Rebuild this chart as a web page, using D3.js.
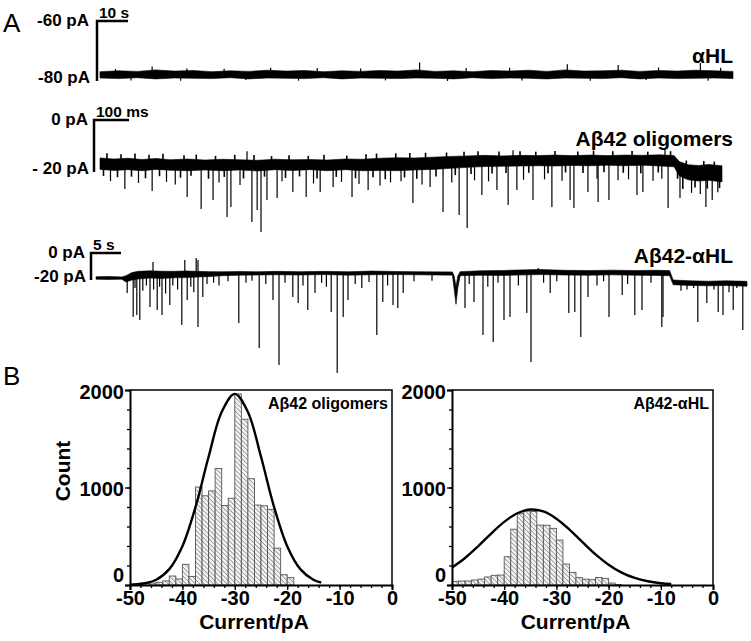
<!DOCTYPE html>
<html><head><meta charset="utf-8">
<script src="https://cdn.jsdelivr.net/npm/d3@7"></script>
<style>body{margin:0;background:#fff} svg{display:block;font-family:"Liberation Sans",Arial,Helvetica,sans-serif}</style>
</head><body><svg id="c" width="751" height="641"></svg>
<script>
// ---------- Panel A data (time, current pA) ----------
// trace 1: alphaHL, time in s
const t1Band = [[0,-76.9,-79.0],[6,-76.6,-79.2],[12,-76.8,-78.9],[18,-76.3,-79.3],[24,-76.7,-79.0],[30,-76.5,-79.1],[36,-76.9,-79.2],[42,-76.6,-78.9],[48,-76.8,-79.3],[54,-76.4,-79.0],[60,-76.7,-79.1],[66,-76.5,-79.2],[72,-76.9,-78.9],[78,-76.6,-79.3],[84,-76.8,-79.0],[90,-76.5,-79.1],[96,-76.7,-79.2],[102,-76.3,-79.0],[108,-76.8,-79.1],[114,-76.6,-79.3],[120,-76.9,-78.9],[126,-76.5,-79.2],[132,-76.7,-79.0],[138,-76.4,-79.1],[144,-76.8,-79.3],[150,-76.3,-79.0],[156,-76.7,-79.1],[162,-76.6,-79.2],[168,-76.4,-78.9],[174,-76.8,-79.3],[180,-76.5,-79.0],[186,-76.7,-79.2],[192,-76.4,-79.1],[198,-76.6,-79.0],[204,-76.8,-79.2]];
const t1Spikes = [[5,-76.0],[16.8,-75.2],[28,-75.8],[40,-75.9],[55,-75.6],[70,-75.7],[84,-75.8],[103,-73.8],[118,-75.7],[132,-75.6],[150.6,-74.4],[167,-74.7],[180,-75.5],[193.5,-74.0],[200,-75.6],
  [10,-79.8],[26,-79.9],[47,-79.7],[64,-79.9],[92,-79.8],[112,-80.0],[136,-79.8],[158,-79.9],[176,-79.7],[196,-79.9]];
// trace 2: Abeta42 oligomers, time in ms
const t2Band = [[0,-14.6,-19.0],[40,-15.0,-19.4],[80,-14.7,-19.1],[120,-15.2,-19.5],[160,-14.8,-19.0],[200,-15.3,-19.3],[250,-15.0,-19.5],[300,-15.4,-19.2],[350,-15.1,-19.5],[400,-15.3,-19.2],[450,-15.5,-19.6],[500,-15.1,-19.1],[550,-15.3,-19.4],[600,-15.2,-19.1],[650,-15.4,-19.5],[700,-15.0,-19.1],[750,-15.1,-19.5],[800,-14.7,-19.4],[850,-14.5,-19.5],[900,-14.6,-19.2],[950,-14.3,-19.0],[1000,-14.0,-18.6],[1050,-13.8,-18.2],[1100,-13.6,-17.9],[1150,-13.8,-17.8],[1200,-13.6,-17.7],[1250,-13.7,-17.6],[1300,-13.5,-17.7],[1350,-13.7,-17.5],[1400,-13.5,-17.6],[1450,-13.7,-17.4],[1500,-13.5,-17.6],[1550,-13.6,-17.4],[1600,-13.4,-17.7],[1640,-13.7,-18.0],[1655,-16.0,-21.5],[1680,-17.2,-23.0],[1710,-17.5,-23.5],[1740,-17.1,-23.2],[1777,-17.6,-23.8]];
const t2Spikes = [[71,-26.5],[149,-27.3],[249,-29.6],[289,-34.2],[323,-30.8],[363,-37.3],[374,-33.5],[434,-39.2],[449,-34.6],[460,-43.1],[477,-30.8],[506,-30],[551,-27.7],[589,-29.6],[629,-27.7],[666,-25.8],[720,-29.6],[766,-26.9],[894,-31.9],[943,-25.8],[980,-35.4],[1026,-36.5],[1049,-41.5],[1091,-28.8],[1134,-26.9],[1166,-32.7],[1191,-26.9],[1237,-30.8],[1291,-33.5],[1343,-30.8],[1354,-33.8],[1394,-27.7],[1423,-31.5],[1454,-30.8],[1534,-28.8],[1551,-27.7],[1623,-33.8],[1657,-30],[1731,-33.5],[1749,-30.8],
  [30,-23.5],[110,-24.2],[190,-23.8],[215,-24.8],[340,-24],[400,-25],[520,-23.6],[610,-24.4],[690,-23.8],[740,-24.6],[800,-25.2],[830,-24],[860,-23.6],[920,-24.8],[1005,-24],[1070,-23.2],[1110,-23.6],[1210,-23],[1270,-22.8],[1320,-23.4],[1420,-22.6],[1480,-23.2],[1510,-22.8],[1580,-23.4],[1605,-22.6],[1690,-28],[1715,-28.5],[1765,-27.8],
  [1614,-11.0],[420,-12.0],[1180,-11.6]];
// fine noise hairs of trace 2 (short excursions)
const t2Hairs = [[10,-21.5],[20,-12.8],[50,-22],[60,-13.2],[90,-21.8],[100,-12.9],[130,-22.4],[140,-13.4],[170,-21.6],[180,-13.0],[230,-22.2],[240,-13.6],[260,-21.4],[275,-13.3],[310,-22.6],[330,-13.8],[355,-21.9],[385,-13.4],[410,-22.5],[440,-13.5],[470,-21.8],[490,-13.9],[530,-22.3],[540,-13.6],[570,-21.7],[595,-13.8],[620,-22.5],[640,-13.4],[675,-21.9],[705,-13.7],[730,-22.4],[760,-13.2],[780,-22.0],[790,-12.9],[815,-22.8],[845,-12.8],[870,-22.1],[885,-12.7],[905,-22.6],[930,-12.6],[960,-21.7],[990,-12.5],[1015,-21.2],[1040,-12.2],[1060,-20.8],[1080,-12.0],[1120,-20.6],[1140,-12.1],[1160,-20.4],[1200,-12.0],[1225,-20.3],[1245,-12.2],[1280,-20.5],[1300,-11.9],[1330,-20.2],[1365,-12.1],[1380,-20.4],[1410,-11.8],[1440,-20.1],[1465,-12.0],[1495,-20.3],[1520,-11.9],[1545,-20.5],[1565,-12.2],[1595,-20.2],[1630,-12.0],[1650,-22.6],[1665,-26.5],[1675,-15.6],[1700,-26.0],[1725,-15.8],[1735,-26.4],[1755,-16.0],[1770,-26.2]];
// trace 3: Abeta42-alphaHL, time in s
const t3Band = [[0,-17.6,-19.4],[2,-17.4,-19.6],[4.3,-17.7,-19.4],[5.0,-16.8,-21.5],[6,-14.5,-20],[7,-13.6,-19.2],[9,-13.2,-18.6],[11,-13.5,-18.8],[13,-13.6,-18.4],[15,-13.3,-18.2],[17,-13.6,-17.8],[19,-13.8,-17.4],[21,-13.9,-16.8],[24,-13.7,-16.4],[27,-13.9,-16.3],[30,-13.6,-16.1],[34,-13.8,-16.3],[38,-13.6,-16.0],[42,-13.9,-16.4],[46,-13.4,-16.1],[50,-13.7,-16.0],[54,-13.9,-16.2],[59.4,-14.0,-16.4],[59.7,-17,-27],[60.0,-25,-38],[60.3,-17,-26],[60.7,-13.8,-16.8],[64,-13.2,-16.5],[68,-12.9,-16.6],[72,-12.4,-16.2],[74,-12.2,-16.0],[78,-12.8,-16.3],[82,-13.0,-16.5],[86,-12.7,-16.2],[90,-13.0,-16.5],[93,-12.8,-16.6],[95.6,-13.0,-16.8],[96.2,-20.0,-23.5],[99,-20.6,-24.0],[102,-20.9,-24.3],[105,-20.6,-24.1],[108.5,-21.0,-24.6]];
const t3Spikes = [[5.2,-29.6],[6.2,-47.4],[6.8,-45.9],[7.3,-49.6],[9.0,-40],[10.2,-42.2],[11.0,-45.9],[12.3,-38.5],[14.3,-53.3],[15.2,-34.8],[17.0,-54.8],[17.8,-32.6],[23.8,-51.9],[27.2,-70.4],[29.5,-34.8],[30.5,-83],[32.8,-32.6],[33.7,-37],[35.3,-42.2],[36.5,-29.6],[39.2,-43.7],[40.2,-88.9],[41.2,-47.4],[42,-34.8],[44.3,-25.9],[46.8,-60.7],[47.8,-36.3],[49.5,-38.5],[50.3,-40.7],[51.2,-29.6],[61.5,-40.7],[63,-36.3],[64.5,-60.7],[66.2,-65.9],[68,-49.6],[69,-47.4],[71.8,-44.4],[72.5,-80.7],[75.7,-29.6],[78.8,-44.4],[79.8,-43.7],[80.8,-62.2],[82,-32.6],[85.5,-47.4],[87.7,-31.1],[89.8,-45.9],[91,-42.2],[94.3,-54.8],[94.5,-47.4],[100.3,-51.1],[101.8,-37],[103.7,-43.7],[104.5,-45.9],[106.2,-42.2],[107.8,-57],
  [9.5,-6.7],[14.8,-5.2],[16.7,-3.7],[17.0,-5.2],[73.7,-11.1],
  [6.5,-26],[7.8,-28],[8.4,-24],[9.6,-27],[10.6,-25],[11.6,-30],[12.8,-24],[13.6,-27],[15.8,-25],[16.3,-29],[18.5,-23],[19.6,-22],[20.5,-24],[22,-21],[25,-22],[26,-20.5],[28.3,-23],[31.5,-22],[34.5,-24],[37.6,-22],[38.4,-25],[43.2,-23],[45.5,-21.5],[48.6,-24],[53,-21],[56,-20.5],[62.2,-23],[65.3,-25],[67,-22],[70.4,-24],[74.6,-22],[76.8,-21],[83.5,-24],[84.6,-21],[88.6,-23],[92.5,-22],[97.5,-28],[98.5,-27],[99.6,-26],[103,-27],[105.5,-29],[106.8,-26]];

// ---------- Panel B data ----------
const binStart = -50, binWidth = 1.25;
const countsOligo = [8,12,15,20,28,42,92,62,212,88,1005,915,965,1195,815,890,1960,1700,1090,820,812,776,378,105,75];
const countsAbHL  = [37,41,41,51,61,82,99,102,290,572,731,759,754,614,613,581,461,215,130,75,60,55,77,68,20,5];
const fitOligo = [[-50,3],[-47.5,15],[-45,54],[-42.5,163],[-40,398],[-37.5,799],[-35,1315],[-32.5,1774],[-30,1960],[-27.5,1774],[-25,1315],[-22.5,799],[-20,398],[-17.5,163],[-15,54],[-13.5,26]];
const fitAbHL = [[-50,179],[-47.5,277],[-45,397],[-42.5,527],[-40,647],[-37.5,736],[-35,774],[-32.5,754],[-30,680],[-27.5,568],[-25,439],[-22.5,314],[-20,208],[-17.5,127],[-15,72],[-12.5,38],[-10,18],[-8,10]];
const xTicks = [-50,-40,-30,-20,-10,0];
const yTicks = [0,1000,2000];

const svg = d3.select("#c");
const defs = svg.append("defs");
const pat = defs.append("pattern").attr("id","hatch").attr("patternUnits","userSpaceOnUse")
  .attr("width",3.2).attr("height",3.2).attr("patternTransform","rotate(-45)");
pat.append("rect").attr("width",3.2).attr("height",3.2).attr("fill","#f4f4f4");
pat.append("line").attr("x1",0).attr("y1",0).attr("x2",0).attr("y2",3.2).attr("stroke","#666").attr("stroke-width",1.1);

svg.append("text").attr("x",3).attr("y",32).attr("font-size",26).text("A");
svg.append("text").attr("x",3).attr("y",385).attr("font-size",26).text("B");

function interp(band, t){
  const i = d3.bisector(d=>d[0]).left(band, t);
  if(i<=0) return (band[0][1]+band[0][2])/2;
  if(i>=band.length) {const b=band[band.length-1]; return (b[1]+b[2])/2;}
  const a=band[i-1], b=band[i], f=(t-a[0])/(b[0]-a[0]);
  return ((a[1]+a[2])/2)*(1-f) + ((b[1]+b[2])/2)*f;
}

function drawTrace(c){
  const x = d3.scaleLinear().domain([0,c.tMax]).range(c.xr);
  const y = d3.scaleLinear().domain(c.yDom).range(c.yr);
  const g = svg.append("g");
  g.append("path").datum(c.band)
    .attr("d", d3.area().x(d=>x(d[0])).y0(d=>y(d[2])).y1(d=>y(d[1])))
    .attr("fill","#000").attr("stroke","#000").attr("stroke-width",0.6);
  g.selectAll("line.hr").data(c.hairs||[]).join("line").attr("class","hr")
    .attr("x1",d=>x(d[0])).attr("x2",d=>x(d[0]))
    .attr("y1",d=>y(interp(c.band,d[0]))).attr("y2",d=>y(d[1]))
    .attr("stroke","#000").attr("stroke-width",1.6);
  g.selectAll("line.sp").data(c.spikes).join("line").attr("class","sp")
    .attr("x1",d=>x(d[0])).attr("x2",d=>x(d[0]))
    .attr("y1",d=>y(interp(c.band,d[0]))).attr("y2",d=>y(d[1]))
    .attr("stroke","#000").attr("stroke-width",1.2);
  const bx = c.barX, dx = x(c.barT)-x(0);
  g.append("path").attr("d",`M${bx+dx},${y(c.barTop)}H${bx}V${y(c.barBot)}`)
    .attr("fill","none").attr("stroke","#000").attr("stroke-width",2.5);
  g.append("text").attr("x",bx+2).attr("y",y(c.barTop)-3).attr("font-size",15.5).attr("font-weight","bold").text(c.barLabel);
  g.append("text").attr("x",c.labX).attr("y",y(c.barTop)+5).attr("text-anchor","end").attr("font-size",17).attr("font-weight","bold").text(c.topLabel);
  g.append("text").attr("x",c.labX+1).attr("y",y(c.barBot)+2).attr("text-anchor","end").attr("font-size",17).attr("font-weight","bold").text(c.botLabel);
  g.append("text").attr("x",733).attr("y",c.titleY).attr("text-anchor","end").attr("font-size",21).attr("font-weight","bold").text(c.title);
}

drawTrace({tMax:204, xr:[100,733], yDom:[-80,-60], yr:[81,21], band:t1Band, spikes:t1Spikes,
  barX:97, barT:10, barTop:-60, barBot:-80, barLabel:"10 s", labX:89, topLabel:"-60 pA", botLabel:"-80 pA", title:"αHL", titleY:63});
drawTrace({tMax:1777, xr:[100,722], yDom:[-20,0], yr:[172,120], band:t2Band, spikes:t2Spikes, hairs:t2Hairs,
  barX:94, barT:100, barTop:0, barBot:-20, barLabel:"100 ms", labX:88, topLabel:"0 pA", botLabel:"- 20 pA", title:"Aβ42 oligomers", titleY:146});
drawTrace({tMax:108.5, xr:[96,747], yDom:[-20,0], yr:[280,253], band:t3Band, spikes:t3Spikes,
  barX:91, barT:5, barTop:0, barBot:-20, barLabel:"5 s", labX:85, topLabel:"0 pA", botLabel:"-20 pA", title:"Aβ42-αHL", titleY:263});

function styleTicks(sel, size){
  sel.attr("font-size",null).attr("font-family",null);
  sel.selectAll(".tick text")
    .style("font-family",'"Liberation Sans",Arial,sans-serif')
    .style("font-size",size+"px").style("font-weight","bold").style("fill","#000");
}

function drawHist(c){
  const x = d3.scaleLinear().domain([-50,0]).range(c.xr);
  const y = d3.scaleLinear().domain([0,2000]).range([585,390]);
  const g = svg.append("g");
  g.selectAll("rect.bar").data(c.counts).join("rect")
    .attr("x",(d,i)=>x(binStart+i*binWidth)).attr("width",(d,i)=>x(binStart+(i+1)*binWidth)-x(binStart+i*binWidth))
    .attr("y",d=>y(d)).attr("height",d=>y(0)-y(d))
    .attr("fill","url(#hatch)").attr("stroke","#555").attr("stroke-width",0.9);
  g.append("path").datum(c.fit).attr("d",d3.line().x(d=>x(d[0])).y(d=>y(d[1])).curve(d3.curveCatmullRom))
    .attr("fill","none").attr("stroke","#000").attr("stroke-width",2.4);
  g.append("path").attr("d",`M${c.xr[0]},${y(2000)}H${c.xr[1]}V${y(0)}`).attr("fill","none").attr("stroke","#000").attr("stroke-width",1.5);
  g.append("g").attr("transform","translate(0,585)")
    .call(d3.axisBottom(x).tickValues(d3.range(-50,1,2)).tickSize(3).tickFormat(""))
    .call(s=>s.select(".domain").remove());
  g.append("g").attr("transform",`translate(${c.xr[0]},0)`)
    .call(d3.axisLeft(y).tickValues(d3.range(0,2001,200)).tickSize(3).tickFormat(""))
    .call(s=>s.select(".domain").remove());
  const xa = g.append("g").attr("transform","translate(0,585)")
    .call(d3.axisBottom(x).tickValues(xTicks).tickSize(5).tickPadding(1).tickFormat(d=>String(d)));
  const ya = g.append("g").attr("transform",`translate(${c.xr[0]},0)`)
    .call(d3.axisLeft(y).tickValues(yTicks).tickSize(5).tickPadding(1).tickFormat(d=>String(d)));
  styleTicks(xa, 20); styleTicks(ya, 20);
  ya.selectAll(".tick text").attr("dy",d=>d===0?"-0.2em":"0.42em");
  g.selectAll(".domain").attr("stroke-width",2);
  g.selectAll(".tick line").attr("stroke-width",1.3);
  g.append("text").attr("x",(c.xr[0]+c.xr[1])/2-7).attr("y",629).attr("text-anchor","middle")
    .attr("font-size",21).attr("font-weight","bold").text("Current/pA");
  g.append("text").attr("x",c.xr[1]-4).attr("y",409).attr("text-anchor","end")
    .attr("font-size",16).attr("font-weight","bold").text(c.label);
}
drawHist({xr:[130,392], counts:countsOligo, fit:fitOligo, label:"Aβ42 oligomers"});
drawHist({xr:[452,713], counts:countsAbHL, fit:fitAbHL, label:"Aβ42-αHL"});
svg.append("text").attr("transform","translate(70,471) rotate(-90)").attr("text-anchor","middle")
  .attr("font-size",21).attr("font-weight","bold").text("Count");
</script></body></html>
